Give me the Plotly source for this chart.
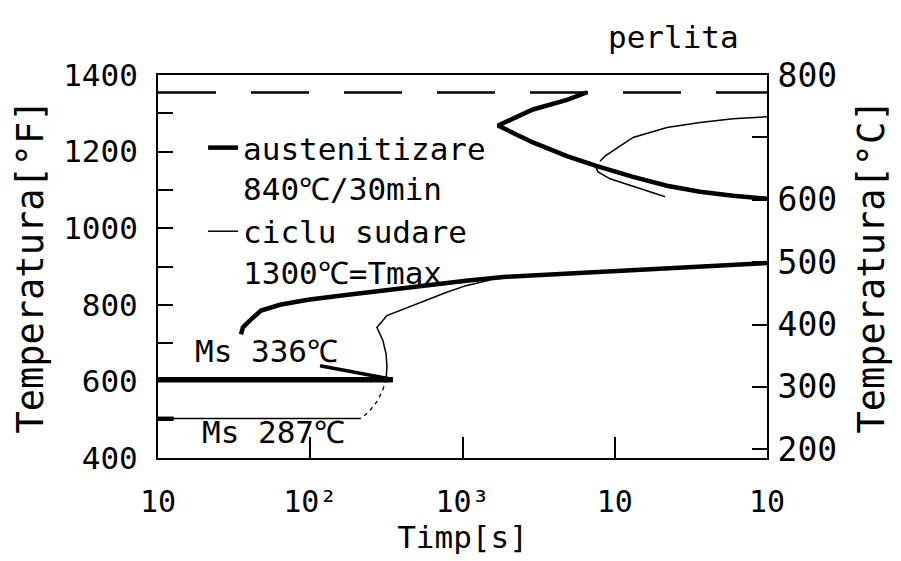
import plotly.graph_objects as go

# ---- data (time in s, temperature in °F unless noted) ----
# austenitizare 840°C/30min (thick)
perl_aus_t = [6600, 4850, 2900, 1710, 2900, 4850, 7640, 13200, 22000, 36300, 59800, 100000]
perl_aus_T = [1355, 1335, 1310, 1268, 1224, 1188, 1162, 1134, 1111, 1095, 1085, 1077]
bain_aus_t = [35.1, 36.1, 40.8, 47.5, 63.3, 96.6, 177, 319, 584, 1054, 1931, 3485, 6380, 11500, 21000, 38000, 100000]
bain_aus_T = [723, 741, 762, 785, 800, 813, 826, 839, 852, 863, 873, 878, 883, 888, 894, 901, 909]
ms_aus_t = [10, 349]
ms_aus_T = [604, 604]
ms_aus_wedge_t = [116, 330]
ms_aus_wedge_T = [641, 607]

# ciclu sudare 1300°C=Tmax (thin)
perl_fin_t = [8000, 8630, 13200, 22000, 36300, 59800, 100000]
perl_fin_T = [1175, 1188, 1237, 1263, 1276, 1286, 1291]
perl_hook_t = [7300, 7770, 9310, 12600, 17000, 21400]
perl_hook_T = [1170, 1147, 1129, 1111, 1095, 1082]
bain_sud_t = [1517, 1054, 780, 584, 432, 319, 274, 300, 315, 319, 315]
bain_sud_T = [865, 850, 832, 813, 793, 772, 741, 707, 671, 638, 607]
bain_sud_dash_t = [315, 300, 274, 243, 215]
bain_sud_dash_T = [607, 578, 547, 521, 503]
ms_sud_t = [10, 215]
ms_sud_T = [503, 503]
ms_sud_stub_t = [10, 12.7]
ms_sud_stub_T = [503, 503]

# Ac3 dashed level (read on the right °C axis)
ac_t = [10, 100000]
ac_C = [772, 772]

x_tickvals = [10, 100, 1000, 10000, 100000]
x_ticktext = ["10", "10²", "10³", "10", "10"]
yF_tickvals = [400, 500, 600, 700, 800, 900, 1000, 1100, 1200, 1300, 1400]
yF_ticktext = ["400", "", "600", "", "800", "", "1000", "", "1200", "", "1400"]
yC_tickvals = [200, 300, 400, 500, 600, 700, 800]
yC_ticktext = ["200", "300", "400", "500", "600", "", "800"]

FONT = "DejaVu Sans Mono"

def join(*pairs):
    xs, ys = [], []
    for i, (a, b) in enumerate(pairs):
        if i:
            xs.append(None); ys.append(None)
        xs += list(a); ys += list(b)
    return xs, ys

fig = go.Figure()

tx, ty = join((perl_aus_t, perl_aus_T), (bain_aus_t, bain_aus_T))
fig.add_trace(go.Scatter(x=tx, y=ty, mode="lines", name="austenitizare<br>840℃/30min",
                         line=dict(color="black", width=4.5), connectgaps=False))
sx, sy = join((perl_fin_t, perl_fin_T), (perl_hook_t, perl_hook_T),
              (bain_sud_t, bain_sud_T), (ms_sud_t, ms_sud_T))
fig.add_trace(go.Scatter(x=sx, y=sy, mode="lines", name="ciclu sudare<br>1300℃=Tmax",
                         line=dict(color="black", width=1.5), connectgaps=False))
fig.add_trace(go.Scatter(x=ms_aus_t, y=ms_aus_T, mode="lines", showlegend=False,
                         line=dict(color="black", width=5.5)))
fig.add_trace(go.Scatter(x=ms_aus_wedge_t, y=ms_aus_wedge_T, mode="lines", showlegend=False,
                         line=dict(color="black", width=3.5)))
fig.add_trace(go.Scatter(x=bain_sud_dash_t, y=bain_sud_dash_T, mode="lines", showlegend=False,
                         line=dict(color="black", width=1.3, dash="4px,4px")))
fig.add_trace(go.Scatter(x=ms_sud_stub_t, y=ms_sud_stub_T, mode="lines", showlegend=False,
                         line=dict(color="black", width=4)))
fig.add_trace(go.Scatter(x=ac_t, y=ac_C, mode="lines", showlegend=False, yaxis="y2",
                         line=dict(color="black", width=2.5, dash="58px,35px")))

fig.update_layout(
    width=901, height=561,
    margin=dict(l=158, r=134, t=75, b=99),
    paper_bgcolor="white", plot_bgcolor="white",
    font=dict(family=FONT, color="black", size=31),
    showlegend=True,
    legend=dict(x=0.074, y=0.88, xanchor="left", yanchor="top", bgcolor="rgba(0,0,0,0)",
                font=dict(family=FONT, size=31, color="black"), valign="top",
                tracegroupgap=0, itemwidth=30),
    xaxis=dict(type="log", range=[1, 5], tickvals=x_tickvals, ticktext=x_ticktext,
               ticks="inside", ticklen=21, tickwidth=1.5, tickcolor="black",
               showline=True, linecolor="black", linewidth=2, mirror=True,
               showgrid=False, zeroline=False, ticklabelstandoff=16,
               tickfont=dict(family=FONT, size=30),
               title=dict(text="Timp[s]", font=dict(family=FONT, size=31), standoff=8)),
    yaxis=dict(range=[400, 1400], tickvals=yF_tickvals, ticktext=yF_ticktext,
               ticks="inside", ticklen=15, tickwidth=1.5, tickcolor="black",
               showline=True, linecolor="black", linewidth=2, mirror=True,
               showgrid=False, zeroline=False, ticklabelstandoff=12,
               tickfont=dict(family=FONT, size=31),
               title=dict(text="Temperatura[°F]", font=dict(family=FONT, size=37), standoff=8)),
    yaxis2=dict(range=[186, 800], overlaying="y", side="right", anchor="x",
                tickvals=yC_tickvals, ticktext=yC_ticktext,
                ticks="inside", ticklen=15, tickwidth=1.5, tickcolor="black",
                showline=True, linecolor="black", linewidth=2,
                showgrid=False, zeroline=False, ticklabelstandoff=2,
                tickfont=dict(family=FONT, size=33),
                title=dict(text="Temperatura[°C]", font=dict(family=FONT, size=37), standoff=22)),
    annotations=[
        dict(text="perlita", xref="paper", yref="paper", x=0.846, y=1.098,
             xanchor="center", yanchor="middle", showarrow=False,
             font=dict(family=FONT, size=31)),
        dict(text="Ms 336℃", xref="x", yref="y", x=1.23, y=680,
             xanchor="left", yanchor="middle", showarrow=False,
             font=dict(family=FONT, size=31)),
        dict(text="Ms 287℃", xref="x", yref="y", x=1.276, y=469,
             xanchor="left", yanchor="middle", showarrow=False,
             font=dict(family=FONT, size=31)),
    ],
)

fig.write_html("out.html")
